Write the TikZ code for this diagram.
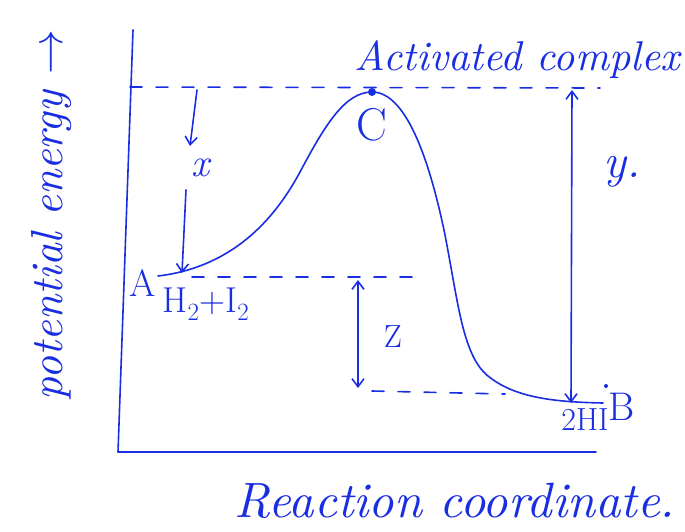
\documentclass[tikz,border=0pt]{standalone}
\usetikzlibrary{arrows.meta}
\definecolor{ink}{RGB}{25,45,225}
\tikzset{
  pen/.style={ink, line width=1.6pt, line cap=round, line join=round},
  dsh/.style={pen, dash pattern=on 12pt off 14pt},
  arr/.style={pen, -{Straight Barb[length=8pt,width=12pt]}},
  dblarr/.style={pen, {Straight Barb[length=8pt,width=12pt]}-{Straight Barb[length=8pt,width=12pt]}},
  lbl/.style={ink, inner sep=0pt},
}
\begin{document}
\begin{tikzpicture}[x=1pt,y=-1pt]
\useasboundingbox (0,0) rectangle (685,531);
% axes
\coordinate (ytop) at (133,30);
\coordinate (orig) at (118,452);
\coordinate (xend) at (596,452);
\draw[pen] (ytop) -- (orig) -- (xend);
% dashed levels
\coordinate (d1a) at (130,87); \coordinate (d1b) at (600,88);
\draw[dsh] (d1a) -- (d1b);
\coordinate (d2a) at (192,277); \coordinate (d2b) at (425,277);
\draw[dsh] (d2a) -- (d2b);
\coordinate (d3a) at (372,391); \coordinate (d3b) at (505,394);
\draw[dsh] (d3a) -- (d3b);
% curve
\coordinate (A) at (158,276);
\coordinate (B) at (603,403);
\node[circle, fill=ink, inner sep=0pt, minimum size=8pt] (C) at (372,92) {};
\draw[pen] (A) .. controls (225,268) and (270,228) .. (300,172)
  .. controls (325,125) and (345,92) .. (C.center)
  .. controls (405,92) and (428,155) .. (444,230)
  .. controls (458,300) and (462,355) .. (488,376)
  .. controls (515,398) and (555,402) .. (B);
\node[circle, fill=ink, inner sep=0pt, minimum size=4pt] (dotB) at (606,386) {};
% x arrow
\coordinate (x1) at (197,90); \coordinate (x2) at (190,146);
\draw[arr] (x1) -- (x2);
\node[lbl, font=\itshape\fontsize{40}{40}\selectfont] (xl) at (200,168) {x};
\coordinate (x3) at (186,190); \coordinate (x4) at (182,273);
\draw[arr] (x3) -- (x4);
% y arrow
\coordinate (y1) at (572,90); \coordinate (y2) at (571,403);
\draw[dblarr] (y1) -- (y2);
\node[lbl, font=\itshape\fontsize{48}{48}\selectfont] (yl) at (622,172) {y.};
% z arrow
\coordinate (z1) at (358,280); \coordinate (z2) at (358,388);
\draw[dblarr] (z1) -- (z2);
\node[lbl, font=\fontsize{32}{32}\selectfont] (zl) at (393,337) {Z};
% labels
\node[lbl, font=\fontsize{46}{46}\selectfont] (Cl) at (372,125) {C};
\node[lbl] (act) at (517,60) {\resizebox{325pt}{!}{\itshape Activated complex}};
\node[lbl, font=\fontsize{38}{38}\selectfont] (Al) at (143,283) {A};
\node[lbl, font=\fontsize{36}{36}\selectfont] (H) at (206,304) {H$_2$+I$_2$};
\node[lbl, font=\fontsize{32}{32}\selectfont] (HI) at (585,420) {2HI};
\node[lbl, font=\fontsize{40}{40}\selectfont] (Bl) at (622,407) {B};
\node[lbl, rotate=90] (pe) at (52,215) {\resizebox{370pt}{!}{\itshape potential energy $\rightarrow$}};
\node[lbl] (rc) at (455,501) {\resizebox{440pt}{!}{\itshape Reaction coordinate.}};
\end{tikzpicture}
\end{document}
